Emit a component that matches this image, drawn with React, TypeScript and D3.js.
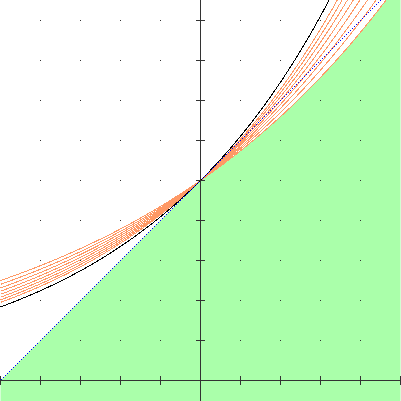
import { useRef, useEffect } from "react";
import * as d3 from "d3";

// family of exponentials a^x, compared against e^x and the tangent y = 1 + x
const BASES = [2.0, 2.08, 2.16, 2.24, 2.32, 2.4, 2.48, 2.56];
const X_DOMAIN: [number, number] = [-1, 1];
const Y_DOMAIN: [number, number] = [0, 2];
const X_TICKS = [-1, -0.8, -0.6, -0.4, -0.2, 0, 0.2, 0.4, 0.6, 0.8, 1];
const Y_TICKS = [0, 0.2, 0.4, 0.6, 0.8, 1, 1.2, 1.4, 1.6, 1.8];
const GRID_X = [-0.8, -0.6, -0.4, -0.2, 0.2, 0.4, 0.6, 0.8];
const GRID_Y = [0.2, 0.4, 0.6, 0.8, 1, 1.2, 1.4, 1.6, 1.8];

const W = 401;
const H = 401;

export default function App() {
  const svgRef = useRef<SVGSVGElement>(null);

  useEffect(() => {
    if (!svgRef.current) return;
    const svg = d3.select(svgRef.current);
    svg.selectAll("*").remove();

    const x = d3.scaleLinear().domain(X_DOMAIN).range([0.5, 400.5]);
    const y = d3.scaleLinear().domain(Y_DOMAIN).range([380.5, -19.5]);

    const xs = d3.range(-1, 1.0001, 0.005);

    svg.append("defs").append("clipPath").attr("id", "plot")
      .append("rect").attr("x", 0).attr("y", 0).attr("width", W).attr("height", H);

    const g = svg.append("g").attr("clip-path", "url(#plot)");

    // green region under both the tangent line and the lowest curve
    const lowBase = d3.min(BASES) as number;
    const area = d3.area<number>()
      .x((d) => x(d))
      .y0(y(-0.2))
      .y1((d) => y(Math.min(1 + d, Math.pow(lowBase, d))));
    g.append("path").datum(xs).attr("d", area).attr("fill", "#aaffaa");

    // grid dots
    GRID_X.forEach((gx) => {
      GRID_Y.forEach((gy) => {
        g.append("rect")
          .attr("x", x(gx) - 0.5).attr("y", y(gy) - 0.5)
          .attr("width", 1).attr("height", 1)
          .attr("fill", "#333");
      });
    });

    const line = (f: (v: number) => number) =>
      d3.line<number>().x((d) => x(d)).y((d) => y(f(d)))(xs);

    // orange family
    BASES.forEach((a) => {
      g.append("path")
        .attr("d", line((v) => Math.pow(a, v)))
        .attr("fill", "none")
        .attr("stroke", "#ff9966")
        .attr("stroke-width", 1)
        .attr("shape-rendering", "crispEdges");
    });

    // e^x
    g.append("path")
      .attr("d", line((v) => Math.exp(v)))
      .attr("fill", "none")
      .attr("stroke", "#000")
      .attr("stroke-width", 1)
      .attr("shape-rendering", "crispEdges");

    // tangent line y = 1 + x, dotted
    g.append("line")
      .attr("x1", x(-1)).attr("y1", y(0))
      .attr("x2", x(1)).attr("y2", y(2))
      .attr("stroke", "#0000ff")
      .attr("stroke-width", 1)
      .attr("stroke-dasharray", "1.414,1.414")
      .attr("shape-rendering", "crispEdges");

    // axes
    const axisColor = "#333";
    g.append("line")
      .attr("x1", 0).attr("x2", W).attr("y1", y(0)).attr("y2", y(0))
      .attr("stroke", axisColor).attr("shape-rendering", "crispEdges");
    g.append("line")
      .attr("x1", x(0)).attr("x2", x(0)).attr("y1", 0).attr("y2", H)
      .attr("stroke", axisColor).attr("shape-rendering", "crispEdges");

    X_TICKS.forEach((t) => {
      g.append("line")
        .attr("x1", x(t)).attr("x2", x(t))
        .attr("y1", y(0) - 4.5).attr("y2", y(0) + 4.5)
        .attr("stroke", axisColor).attr("shape-rendering", "crispEdges");
    });
    Y_TICKS.forEach((t) => {
      g.append("line")
        .attr("x1", x(0) - 4.5).attr("x2", x(0) + 4.5)
        .attr("y1", y(t)).attr("y2", y(t))
        .attr("stroke", axisColor).attr("shape-rendering", "crispEdges");
    });

    return () => {
      svg.selectAll("*").remove();
    };
  }, []);

  return (
    <div style={{ position: "fixed", left: 0, top: 0, width: W, height: H, background: "#fff" }}>
      <svg ref={svgRef} width={W} height={H} style={{ display: "block" }} />
    </div>
  );
}
